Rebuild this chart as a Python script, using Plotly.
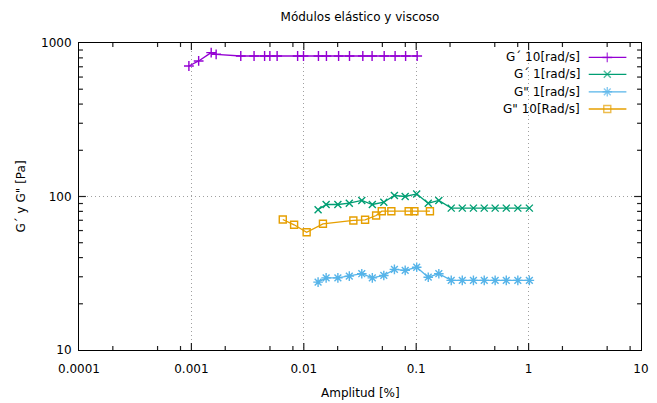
import math
import plotly.graph_objects as go

# ---------------- data ----------------
gp10_x = [0.00095, 0.00116, 0.0015, 0.00166, 0.00275, 0.00361, 0.00448, 0.00499, 0.00579,
          0.00881, 0.00994, 0.0135, 0.0159, 0.0204, 0.0255, 0.0335, 0.0405, 0.0519,
          0.0649, 0.0805, 0.102]
gp10_y = [708, 764, 866, 844, 823, 823, 823, 823, 823, 823, 823, 823, 823, 823, 823,
          823, 823, 823, 823, 823, 823]

g1_x = [0.0134, 0.0158, 0.0201, 0.0254, 0.0328, 0.0407, 0.0515, 0.064, 0.0798, 0.101,
        0.128, 0.159, 0.205, 0.257, 0.323, 0.403, 0.504, 0.633, 0.802, 1.016]
gp1_y = [82, 88.7, 88.7, 90.4, 94.2, 88.7, 91.8, 101.5, 100, 104, 90.4, 94.2,
         84, 84, 84, 84, 84, 84, 84, 84]
gpp1_y = [27.7, 29.5, 29.5, 30.3, 31.4, 29.5, 30.6, 33.5, 33.0, 34.6, 29.8, 31.4,
          28.4, 28.4, 28.4, 28.4, 28.4, 28.4, 28.4, 28.4]

gpp10_x = [0.0065, 0.0082, 0.0106, 0.0148, 0.0276, 0.0351, 0.044, 0.0494, 0.0601,
           0.0857, 0.0964, 0.1325]
gpp10_y = [70.8, 65.4, 58.5, 66.4, 69.8, 70.5, 75.2, 80.2, 80.2, 80.2, 80.2, 80.2]

series_names = ["G´ 10[rad/s]", "G´ 1[rad/s]", "G\" 1[rad/s]", "G\" 10[Rad/s]"]
x_tickvals = [0.0001, 0.001, 0.01, 0.1, 1, 10]
x_ticktext = ["0.0001", "0.001", "0.01", "0.1", "1", "10"]
y_tickvals = [10, 100, 1000]
y_ticktext = ["10", "100", "1000"]
x_minor = [m * d for d in [0.0001, 0.001, 0.01, 0.1, 1] for m in (2, 5, 8)]
y_minor = [m * d for d in [10, 100] for m in range(2, 10)]

title_text = "Módulos elástico y viscoso"
xlabel = "Amplitud [%]"
ylabel = "G´ y G\" [Pa]"

# ---------------- styles ----------------
FONT = "DejaVu Sans"
colors = ["#9400D3", "#009E73", "#56B4E9", "#E69F00"]
symbols = ["cross-thin-open", "x-thin-open", "asterisk-open", "square-open"]
msizes = [7, 7, 8, 7]
XR = (-4, 1)   # log10 range of x axis
YR = (1, 3)    # log10 range of y axis
W, H = 657, 403
M = dict(l=79, r=8, t=43, b=53)
PW = W - M["l"] - M["r"]
PH = H - M["t"] - M["b"]
MAJ, MIN = 7, 4  # tick lengths in px

data = [(gp10_x, gp10_y), (g1_x, gp1_y), (g1_x, gpp1_y), (gpp10_x, gpp10_y)]

fig = go.Figure()
for (xs, ys), name, c, s, ms in zip(data, series_names, colors, symbols, msizes):
    fig.add_trace(go.Scatter(
        x=xs, y=ys, mode="lines+markers", name=name, showlegend=False,
        line=dict(color=c, width=1.3),
        marker=dict(symbol=s, size=ms, color=c, line=dict(color=c, width=1.4)),
    ))


def fx(f):  # paper fraction -> data value on log x axis
    return 10 ** (XR[0] + (XR[1] - XR[0]) * f)


def fy(f):
    return 10 ** (YR[0] + (YR[1] - YR[0]) * f)


def frac_x(v):
    return (math.log10(v) - XR[0]) / (XR[1] - XR[0])


def frac_y(v):
    return (math.log10(v) - YR[0]) / (YR[1] - YR[0])


# custom legend (text right, sample on the right like gnuplot)
leg_y = [0.953, 0.898, 0.841, 0.785]
for name, c, s, ms, ly in zip(series_names, colors, symbols, msizes, leg_y):
    fig.add_trace(go.Scatter(
        x=[fx(0.907), fx(0.940), fx(0.974)], y=[fy(ly)] * 3,
        mode="lines+markers", showlegend=False, hoverinfo="skip",
        line=dict(color=c, width=1.3),
        marker=dict(symbol=s, size=[0, ms, 0], color=c, line=dict(color=c, width=1.4)),
    ))
    fig.add_annotation(text=name, xref="paper", yref="paper", x=0.895, y=ly,
                       xanchor="right", yanchor="middle", showarrow=False,
                       font=dict(family=FONT, size=12, color="#000000"))

# inside ticks on all four sides (gnuplot style), drawn as shapes
tick_line = dict(color="#202020", width=1.2)
for vals, L in ((x_tickvals, MAJ), (x_minor, MIN)):
    for v in vals:
        f = frac_x(v)
        if 0 < f < 1:
            fig.add_shape(type="line", xref="paper", yref="paper", x0=f, x1=f,
                          y0=0, y1=L / PH, line=tick_line, layer="above")
            fig.add_shape(type="line", xref="paper", yref="paper", x0=f, x1=f,
                          y0=1, y1=1 - L / PH, line=tick_line, layer="above")
for vals, L in ((y_tickvals, MAJ), (y_minor, MIN)):
    for v in vals:
        f = frac_y(v)
        if 0 < f < 1:
            fig.add_shape(type="line", xref="paper", yref="paper", y0=f, y1=f,
                          x0=0, x1=L / PW, line=tick_line, layer="above")
            fig.add_shape(type="line", xref="paper", yref="paper", y0=f, y1=f,
                          x0=1, x1=1 - L / PW, line=tick_line, layer="above")

axis_common = dict(
    type="log", showline=True, linecolor="#000000", linewidth=1, mirror=True,
    ticks="", showgrid=True, gridcolor="#a0a0a0", griddash="1px,3px", gridwidth=1,
    zeroline=False, tickfont=dict(family=FONT, size=12, color="#000000"),
)

fig.update_layout(
    width=W, height=H,
    margin=M,
    paper_bgcolor="white", plot_bgcolor="white",
    font=dict(family=FONT, size=12, color="#000000"),
    title=dict(text=title_text, x=0.5, xref="paper", xanchor="center",
               y=1 - 17 / H, yanchor="middle", font=dict(family=FONT, size=12)),
    xaxis=dict(range=list(XR), tickmode="array", tickvals=x_tickvals, ticktext=x_ticktext,
               ticklabelstandoff=8, **axis_common),
    yaxis=dict(range=list(YR), tickmode="array", tickvals=y_tickvals, ticktext=y_ticktext,
               ticklabelstandoff=4, **axis_common),
)

fig.add_annotation(text=xlabel, xref="paper", yref="paper", x=0.5, y=0,
                   yshift=-43, xanchor="center", yanchor="middle", showarrow=False,
                   font=dict(family=FONT, size=12))
fig.add_annotation(text=ylabel, xref="paper", yref="paper", x=0, y=0.5,
                   xshift=-59, xanchor="center", yanchor="middle", textangle=-90,
                   showarrow=False, font=dict(family=FONT, size=12))

fig.write_html("out.html")
